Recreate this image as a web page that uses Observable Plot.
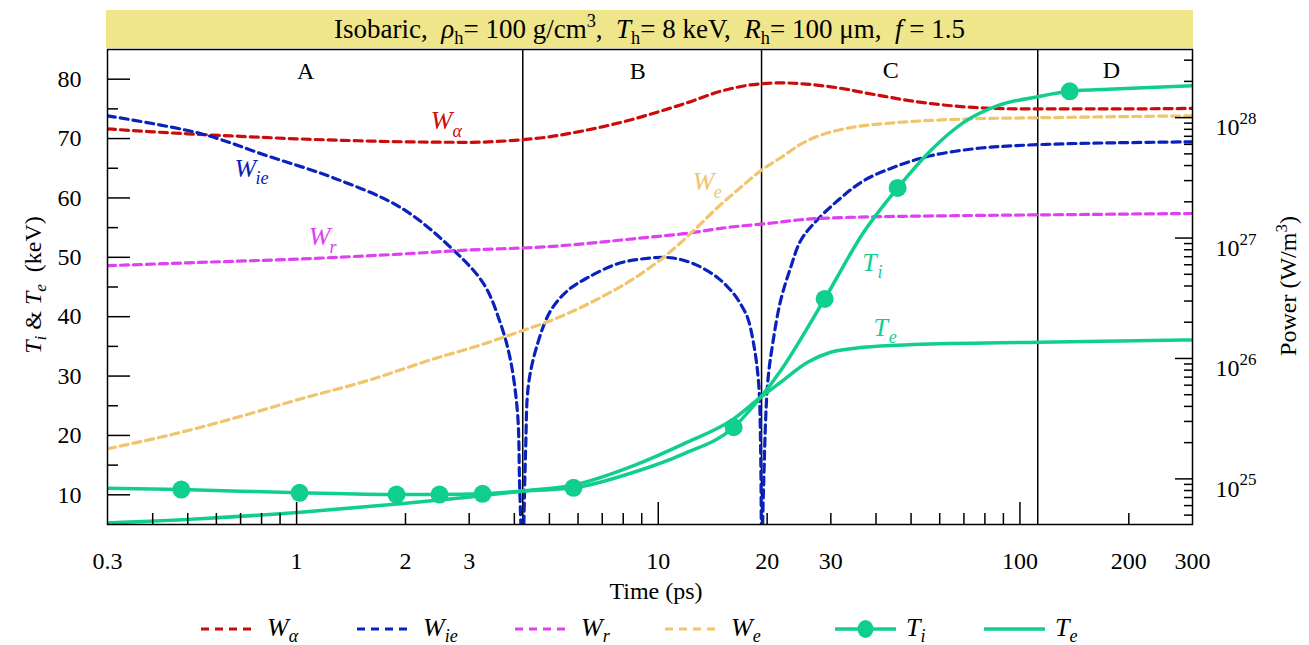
<!DOCTYPE html>
<html><head><meta charset="utf-8">
<script src="https://cdn.jsdelivr.net/npm/d3@7"></script>
<script src="https://cdn.jsdelivr.net/npm/@observablehq/plot@0.6"></script>
<style>
body{margin:0;background:#fff;font-family:"Liberation Serif","Times New Roman",serif;}
#wrap{position:relative;width:1309px;height:645px;overflow:hidden;}
#title{position:absolute;left:106px;top:10px;width:1087px;height:38px;background:#efe58b;font-size:27px;line-height:38px;text-align:center;white-space:pre;}
#chart{position:absolute;left:0;top:48px;}
#legend{position:absolute;left:0;top:612px;width:1309px;height:33px;}
sub{font-size:68%;vertical-align:-0.3em;line-height:0}
sup{font-size:68%;vertical-align:0.6em;line-height:0}
</style></head>
<body>
<div id="wrap">
  <div id="title">Isobaric,  <i>ρ</i><sub>h</sub>= 100 g/cm<sup>3</sup>,  <i>T</i><sub>h</sub>= 8 keV,  <i>R</i><sub>h</sub>= 100 μm,  <i>f</i> = 1.5</div>
  <div id="chart"></div>
  <div id="legend"></div>
</div>
<script>
// ---------------- data ----------------
// W_alpha (W/m^3)
const tAlpha = [0.3,0.4,0.5,0.7,1,1.5,2,3,4,5,6,7,8,10,12,15,18,20,22,25,30,40,50,70,100,150,200,300];
const wAlpha = [8.07e27,7.62e27,7.34e27,6.99e27,6.67e27,6.42e27,6.30e27,6.24e27,6.48e27,6.93e27,7.62e27,8.39e27,9.23e27,1.117e28,1.327e28,1.668e28,1.871e28,1.926e28,1.945e28,1.909e28,1.803e28,1.546e28,1.378e28,1.230e28,1.183e28,1.183e28,1.183e28,1.194e28];
// |W_ie| (W/m^3), changes sign near 4.21 ps and 19.3 ps (segments 0,1,2)
const tIe = [0.3,0.542,0.829,1.265,1.938,2.666,3.288,3.664,3.905,4.083,4.136,4.20,
             4.23,4.297,4.38,4.638,5.037,5.614,6.376,7.72,9.11,10.82,12.52,14.59,16.16,17.0,17.66,18.35,18.95,19.19,19.28,
             19.34,19.56,20.06,20.72,21.79,23.22,24.75,26.89,31.3,36.97,45.9,56.6,74.5,96.1,132.1,181.6,300];
const wIe = [1.035e28,7.38e27,4.82e27,3.16e27,1.795e27,8.36e26,4.18e26,1.945e26,9.6e25,3.48e25,9.1e24,2e24,
             2e24,1.72e25,6.18e25,1.327e26,2.49e26,3.66e26,4.69e26,6.12e26,6.73e26,6.86e26,6.12e26,4.69e26,3.45e26,2.74e26,2.18e26,1.327e26,6.18e25,1.72e25,2e24,
             2e24,9.1e24,6.18e25,1.327e26,3.02e26,5.68e26,9.51e26,1.315e27,2.04e27,2.99e27,3.98e27,4.82e27,5.51e27,5.84e27,6.06e27,6.18e27,6.30e27];
const segIe = [0,0,0,0,0,0,0,0,0,0,0,0,
               1,1,1,1,1,1,1,1,1,1,1,1,1,1,1,1,1,1,1,
               2,2,2,2,2,2,2,2,2,2,2,2,2,2,2,2,2];
// W_r
const tR = [0.3,0.542,1.025,1.938,2.97,4.94,8.55,11.75,16.16,20.06,24.75,33.4,63.1,119.3,300];
const wR = [5.89e26,6.28e26,6.70e26,7.36e26,7.94e26,8.47e26,9.86e26,1.087e27,1.242e27,1.32e27,1.419e27,1.483e27,1.531e27,1.56e27,1.60e27];
// W_e
const tE = [0.3,0.44,0.669,1.025,1.571,2.391,3.288,4.083,5.037,6.93,8.94,10.61,12.52,14.59,16.89,19.19,22.21,24.5,26.89,30.0,33.4,45.9,69.9,119.3,300];
const wE = [1.78e25,2.29e25,3.18e25,4.61e25,6.55e25,9.9e25,1.318e26,1.648e26,2.06e26,3.21e26,5.02e26,7.36e26,1.151e27,1.795e27,2.63e27,3.62e27,4.82e27,5.9e27,6.8e27,7.6e27,8.18e27,9.10e27,9.73e27,1.0e28,1.035e28];
// T_i (keV)
const tTi = [0.3,0.48,1.019,1.889,2.484,3.267,4.16,5.83,8.55,11.75,16.16,19.19,21.79,28.84,36.97,45.9,56.6,69.9,86.8,112,137.3,181.6,300];
const Ti  = [11.11,10.89,10.34,10.05,10.05,10.17,10.61,11.18,13.80,16.90,21.38,26.43,30.9,43.0,54.21,61.68,67.96,72.73,75.54,77.05,77.95,78.35,78.91];
const tTiMark = [0.48,1.019,1.889,2.484,3.267,5.83,16.16,28.84,45.9,137.3];
const TiMark  = [10.89,10.34,10.05,10.05,10.17,11.18,21.38,43.0,61.68,77.95];
// T_e (keV)
const tTe = [0.3,0.542,1.025,1.938,2.97,4.16,5.83,8.55,11.75,16.16,19.19,21.79,25.88,29.96,36.97,50.8,112,300];
const Te  = [5.25,5.96,7.07,8.48,9.60,10.61,11.65,14.93,18.59,22.79,26.43,28.96,32.32,34.01,34.85,35.30,35.69,36.09];
// phase boundaries (ps) and region names
const tBounds = [4.22, 19.3, 112];
const regionNames = ["A","B","C","D"];
const regionT = [1.06, 8.77, 43.9, 179];
const regionY = [81.3, 81.3, 81.5, 81.5];
// curve labels
const labMain = ["W","W","W","W","T","T"];
const labSub  = ["α","ie","r","e","i","e"];
const labT    = [2.516, 0.722, 1.157, 13.35, 38.4, 41.2];
const labY    = [73.0, 64.96, 53.42, 62.68, 49.13, 38.18];
// tick labels
const xTickLabels = [0.3,1,2,3,10,20,30,100,200,300];
const yTickLabels = [10,20,30,40,50,60,70,80];
const pDecades = [1e25,1e26,1e27,1e28];

// ---------------- styles ----------------
const cAlpha = "#cc0b0b", cIe = "#0a22bd", cR = "#de40f2", cE = "#f0c56c", cT = "#10cf8c";
const labColors = [cAlpha, cIe, cR, cE, cT, cT];
const subDx = [11, 10, 10, 10, 8, 8];

// secondary (power) axis mapped onto the primary keV axis
const p2k = d3.scaleLog().domain([4.18e24, 3.68e28]).range([5, 85]);

const W = 1309, H = 565, mL = 107, mR = 117, mT = 1, mB = 89;
const FW = W - mL - mR, FH = H - mT - mB;

const xMajor = [1, 10, 100];
const xMinor = [];
for (const dec of [0.1, 1, 10, 100]) for (let k = 2; k <= 9; k++) { const v = +(k*dec).toPrecision(3); if (v > 0.3 && v < 300) xMinor.push(v); }
const yMinor = [15,25,35,45,55,65,75];
const pMinor = [];
for (const dec of [1e24,1e25,1e26,1e27,1e28]) for (let k = 2; k <= 9; k++) { const v = k*dec; if (v > 4.18e24 && v < 3.68e28) pMinor.push(v); }

const dashed = {strokeDasharray: "8,5", strokeWidth: 3.2, clip: true, curve: "monotone-x"};
const marks = [
  Plot.ruleX(tBounds, {x: d => d, stroke: "black", strokeWidth: 1.5}),
  Plot.line(tAlpha, {x: d => d, y: (d, i) => p2k(wAlpha[i]), stroke: cAlpha, ...dashed}),
  Plot.line(tIe, {x: d => d, y: (d, i) => p2k(wIe[i]), z: (d, i) => segIe[i], stroke: cIe, ...dashed, curve: "catmull-rom"}),
  Plot.line(tR, {x: d => d, y: (d, i) => p2k(wR[i]), stroke: cR, ...dashed}),
  Plot.line(tE, {x: d => d, y: (d, i) => p2k(wE[i]), stroke: cE, ...dashed}),
  Plot.line(tTe, {x: d => d, y: (d, i) => Te[i], stroke: cT, strokeWidth: 3.5, curve: "monotone-x", clip: true}),
  Plot.line(tTi, {x: d => d, y: (d, i) => Ti[i], stroke: cT, strokeWidth: 3.5, curve: "monotone-x", clip: true}),
  Plot.dot(tTiMark, {x: d => d, y: (d, i) => TiMark[i], r: 9, fill: cT}),
  // inward ticks
  Plot.tickX(xMinor, {x: d => d, insetTop: FH - 11, stroke: "black", strokeWidth: 1.5}),
  Plot.tickX(xMajor, {x: d => d, insetTop: FH - 22, stroke: "black", strokeWidth: 1.5}),
  Plot.tickY(yMinor, {y: d => d, insetRight: FW - 11, stroke: "black", strokeWidth: 1.5}),
  Plot.tickY(yTickLabels, {y: d => d, insetRight: FW - 23, stroke: "black", strokeWidth: 1.5}),
  Plot.tickY(pMinor, {y: d => p2k(d), insetLeft: FW - 8, stroke: "black", strokeWidth: 1.5}),
  Plot.tickY(pDecades, {y: d => p2k(d), insetLeft: FW - 17, stroke: "black", strokeWidth: 1.5}),
  Plot.frame({stroke: "black", strokeWidth: 1.5}),
  // axes labels
  Plot.axisX({ticks: xTickLabels, tickSize: 0, tickPadding: 27, tickFormat: d => String(d), fontSize: 24, label: null}),
  Plot.axisY({anchor: "left", ticks: yTickLabels, tickSize: 0, tickPadding: 26, tickFormat: d => String(d), fontSize: 24, label: null}),
  Plot.text(pDecades, {y: d => p2k(d), text: () => "10", frameAnchor: "right", dx: 23, dy: 10, textAnchor: "start", fontSize: 24, fill: "black"}),
  Plot.text(pDecades, {y: d => p2k(d), text: d => String(Math.round(Math.log10(d))), frameAnchor: "right", dx: 47, dy: 1, textAnchor: "start", fontSize: 17, fill: "black"}),
  // region names
  Plot.text(regionNames, {x: (d, i) => regionT[i], y: (d, i) => regionY[i], text: d => d, fontSize: 24, fill: "black"})
];
labMain.forEach((m, i) => {
  marks.push(Plot.text([m], {x: () => labT[i], y: () => labY[i], text: d => d, fill: labColors[i], fontSize: 26, fontStyle: "italic"}));
  marks.push(Plot.text([labSub[i]], {x: () => labT[i], y: () => labY[i], text: d => d, fill: labColors[i], fontSize: 18, fontStyle: "italic", textAnchor: "start", dx: subDx[i], dy: 10}));
});

const chart = Plot.plot({
  width: W, height: H,
  marginLeft: mL, marginRight: mR, marginTop: mT, marginBottom: mB,
  style: {fontFamily: "'Liberation Serif', 'Times New Roman', serif", fontSize: "24px", background: "white", color: "black", overflow: "visible"},
  x: {type: "log", domain: [0.3, 300]},
  y: {type: "linear", domain: [5, 85]},
  marks
});
document.getElementById("chart").appendChild(chart);

// axis titles with sub/superscripts
const svg = d3.select(chart);
const serif = "'Liberation Serif', 'Times New Roman', serif";
const lt = svg.append("text").attr("transform", "translate(41,237) rotate(-90)")
  .attr("text-anchor", "middle").attr("font-size", 24).attr("font-family", serif).attr("fill", "black");
lt.append("tspan").attr("font-style", "italic").text("T");
lt.append("tspan").attr("font-style", "italic").attr("font-size", 17).attr("dy", 5).text("i");
lt.append("tspan").attr("dy", -5).text(" & ");
lt.append("tspan").attr("font-style", "italic").text("T");
lt.append("tspan").attr("font-style", "italic").attr("font-size", 17).attr("dy", 5).text("e");
lt.append("tspan").attr("dy", -5).text("  (keV)");

const rt = svg.append("text").attr("transform", "translate(1296,238) rotate(-90)")
  .attr("text-anchor", "middle").attr("font-size", 24).attr("font-family", serif).attr("fill", "black");
rt.append("tspan").text("Power (W/m");
rt.append("tspan").attr("font-size", 17).attr("dy", -9).text("3");
rt.append("tspan").attr("dy", 9).text(")");

svg.append("text").attr("x", 656).attr("y", 551).attr("text-anchor", "middle")
  .attr("font-size", 24).attr("font-family", serif).attr("fill", "black").text("Time (ps)");

// ---------------- legend ----------------
const legNames = [["W","α"],["W","ie"],["W","r"],["W","e"],["T","i"],["T","e"]];
const legColors = [cAlpha, cIe, cR, cE, cT, cT];
const legDashed = [true,true,true,true,false,false];
const legMarker = [false,false,false,false,true,false];
const legX = [201, 357, 515, 665, 835, 984];
const leg = d3.select("#legend").append("svg").attr("width", 1309).attr("height", 33);
legNames.forEach((nm, i) => {
  const g = leg.append("g").attr("transform", `translate(${legX[i]},17)`);
  const len = legDashed[i] ? 56 : 61;
  g.append("line").attr("x1", 0).attr("x2", len).attr("y1", 0).attr("y2", 0)
    .attr("stroke", legColors[i]).attr("stroke-width", legDashed[i] ? 3.2 : 3.5)
    .attr("stroke-dasharray", legDashed[i] ? "8,6" : null);
  if (legMarker[i]) g.append("ellipse").attr("cx", len/2).attr("cy", 0).attr("rx", 8).attr("ry", 9).attr("fill", legColors[i]);
  const t = g.append("text").attr("x", len + 10).attr("y", 7).attr("font-size", 26)
    .attr("font-family", serif).attr("font-style", "italic").attr("fill", "black");
  t.append("tspan").text(nm[0]);
  t.append("tspan").attr("font-size", 18).attr("dy", 6).text(nm[1]);
});
</script>
</body></html>
